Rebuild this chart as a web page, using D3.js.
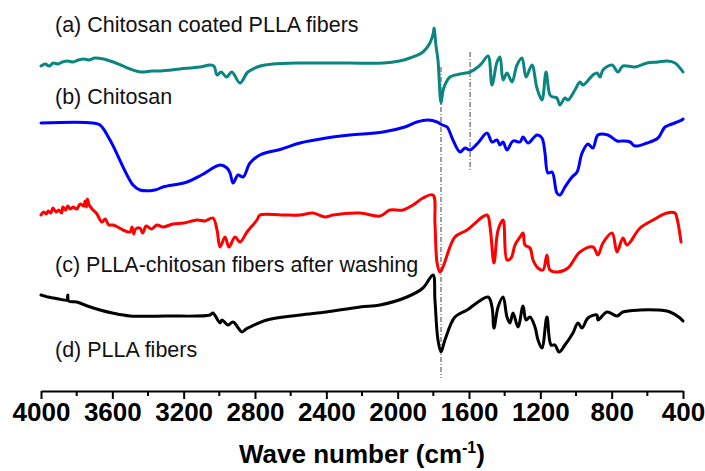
<!DOCTYPE html>
<meta charset="utf-8" />
<style>
  body { margin: 0; background: #fff; }
  .spec { fill: none; stroke-width: 3px; stroke-linejoin: round; stroke-linecap: round; }
  .guide { stroke: #444; stroke-width: 1; stroke-dasharray: 5,2,1,2; }
  .lab { font-family: Arial, "Liberation Sans", sans-serif; font-size: 21.5px; fill: #111; }
  .axis text { font-family: Arial, "Liberation Sans", sans-serif; font-size: 26px; font-weight: bold; fill: #000; }
  .axis path, .axis line { stroke: #000; stroke-width: 2px; }
  .title { font-family: Arial, "Liberation Sans", sans-serif; font-size: 26px; font-weight: bold; }
</style>
<svg width="705" height="471"></svg>
<script src="https://d3js.org/d3.v7.min.js"></script>
<script>
  // wavenumber (cm-1), offset transmittance (a.u.)
  var specA = [[4000,325],[3975,327],[3955,325],[3930,328],[3905,327],[3880,329],[3850,330],[3820,329],[3790,331],[3760,332],[3730,331],[3700,333],[3650,332],[3580,328],[3500,322],[3440,319],[3380,320],[3330,320],[3220,322],[3110,324],[3052,326],[3030,325],[3013,316],[2990,319],[2960,314],[2930,319],[2884,308],[2840,319],[2770,325],[2700,327],[2550,328],[2450,328],[2270,328],[2080,328],[1990,330],[1931,333],[1858,339],[1819,348],[1800,358],[1796,363],[1785,345],[1774,331],[1757,288],[1746,300],[1735,306],[1707,314],[1650,317],[1594,319],[1550,324],[1527,328],[1493,335],[1471,306],[1443,329],[1426,334],[1409,311],[1387,318],[1359,309],[1331,326],[1303,333],[1280,314],[1247,326],[1219,303],[1191,291],[1168,319],[1146,296],[1129,294],[1107,293],[1090,286],[1062,293],[1045,291],[1006,301],[978,309],[961,306],[905,316],[882,318],[865,314],[849,321],[798,326],[765,319],[737,325],[669,324],[602,328],[540,329],[490,330],[445,328],[417,323],[400,319]];

  var specB = [[4000,268],[3710,268],[3669,266],[3613,251],[3484,206],[3445,201],[3361,201],[3316,204],[3181,209],[3100,216],[2996,226],[2957,223],[2940,218],[2923,208],[2895,216],[2867,214],[2828,228],[2772,236],[2650,242],[2548,248],[2400,253],[2267,256],[2082,259],[1960,264],[1892,269],[1830,271],[1779,269],[1750,266],[1723,264],[1690,251],[1650,239],[1622,243],[1594,241],[1550,248],[1499,258],[1471,249],[1443,251],[1426,246],[1409,249],[1387,241],[1353,250],[1314,249],[1297,254],[1269,248],[1219,256],[1191,253],[1174,238],[1157,218],[1134,219],[1107,198],[1090,196],[1062,204],[1022,214],[994,219],[966,238],[933,247],[905,243],[877,256],[821,256],[770,250],[737,250],[697,249],[669,245],[602,248],[540,253],[501,264],[462,267],[406,271],[400,272]];

  var specC = [[4000,176],[3985,179],[3970,177],[3960,180],[3945,178],[3933,183],[3915,179],[3900,181],[3885,178],[3877,184],[3862,181],[3850,185],[3835,182],[3820,184],[3800,182],[3780,187],[3760,185],[3753,190],[3745,184],[3740,192],[3730,186],[3708,181],[3690,178],[3658,169],[3640,172],[3620,166],[3596,166],[3570,164],[3540,161],[3501,159],[3490,164],[3480,157],[3470,162],[3445,163],[3430,158],[3410,165],[3380,162],[3350,166],[3316,164],[3260,167],[3200,168],[3125,171],[3080,170],[3036,173],[3013,161],[2996,144],[2968,154],[2946,144],[2912,154],[2884,149],[2845,159],[2789,171],[2772,176],[2650,176],[2548,176],[2475,178],[2407,174],[2363,176],[2211,178],[2099,175],[2043,181],[1970,181],[1914,186],[1858,193],[1802,196],[1791,168],[1779,128],[1763,119],[1746,124],[1679,154],[1611,161],[1499,176],[1482,164],[1460,128],[1437,161],[1409,171],[1387,131],[1364,133],[1342,146],[1314,154],[1297,158],[1286,146],[1258,143],[1241,131],[1213,123],[1185,121],[1163,136],[1146,121],[1101,119],[1045,123],[978,139],[905,144],[877,136],[849,148],[798,158],[770,139],[737,153],[714,146],[641,163],[568,171],[490,178],[445,178],[434,173],[411,149]];

  var specD = [[4000,96],[3980,95],[3960,94],[3930,93],[3900,92],[3870,91],[3854,91],[3850,96],[3845,90],[3800,89],[3740,85],[3669,81],[3600,78],[3501,75],[3300,75],[3052,76],[3036,78],[2996,68],[2985,71],[2951,66],[2923,69],[2873,59],[2850,62],[2828,64],[2733,71],[2548,76],[2400,79],[2211,84],[2099,86],[1948,94],[1858,103],[1802,116],[1791,91],[1774,51],[1757,39],[1735,51],[1679,74],[1611,81],[1493,94],[1471,84],[1460,63],[1437,84],[1409,94],[1387,74],[1370,68],[1353,78],[1325,64],[1297,85],[1280,71],[1258,74],[1230,64],[1213,51],[1191,43],[1163,74],[1140,46],[1118,46],[1095,39],[1062,46],[1017,58],[989,68],[966,63],[933,73],[882,76],[877,71],[826,79],[770,75],[737,79],[641,81],[546,81],[473,79],[417,73],[400,70]];

  var series = [
    { name: "(a) Chitosan coated PLLA fibers", values: specA, color: "#0b8580" },
    { name: "(b) Chitosan", values: specB, color: "#0000ff" },
    { name: "(c) PLLA-chitosan fibers after washing", values: specC, color: "#ff0000" },
    { name: "(d) PLLA fibers", values: specD, color: "#000000" }
  ];

  // dash-dot guides: [wavenumber, from, to]
  var guides = [[1757, 13, 324], [1594, 219, 339]];

  var majorTicks = d3.range(4000, 399, -400);
  var minorTicks = d3.range(3800, 400, -400);

  var svg = d3.select("svg"),
    left = 41,
    right = 683,
    axisY = 391;

  var x = d3.scaleLinear().domain([4000, 400]).range([left, right]);
  var y = d3.scaleLinear().domain([0, 391]).range([axisY, 0]);

  var line = d3
    .line()
    .curve(d3.curveCatmullRom.alpha(0.5))
    .x(function (d) { return x(d[0]); })
    .y(function (d) { return y(d[1]); });

  svg
    .selectAll(".guide")
    .data(guides)
    .enter()
    .append("line")
    .attr("class", "guide")
    .attr("x1", function (d) { return x(d[0]); })
    .attr("x2", function (d) { return x(d[0]); })
    .attr("y1", function (d) { return y(d[2]); })
    .attr("y2", function (d) { return y(d[1]); });

  svg
    .selectAll(".spec")
    .data(series)
    .enter()
    .append("path")
    .attr("class", "spec")
    .attr("stroke", function (d) { return d.color; })
    .attr("d", function (d) { return line(d.values); });

  // curve labels
  var labelY = [32, 104, 272, 357];
  svg
    .selectAll(".lab")
    .data(series)
    .enter()
    .append("text")
    .attr("class", "lab")
    .attr("x", 55)
    .attr("y", function (d, i) { return labelY[i]; })
    .text(function (d) { return d.name; });

  var axis = svg
    .append("g")
    .attr("class", "axis")
    .attr("transform", "translate(0," + axisY + ")")
    .call(
      d3.axisBottom(x)
        .tickValues(majorTicks)
        .tickFormat(d3.format("d"))
        .tickSize(8)
        .tickSizeOuter(0)
        .tickPadding(4)
    );

  axis.selectAll(".minor")
    .data(minorTicks)
    .enter()
    .append("line")
    .attr("class", "minor")
    .attr("x1", function (d) { return x(d); })
    .attr("x2", function (d) { return x(d); })
    .attr("y1", 0)
    .attr("y2", 5);

  var title = svg
    .append("text")
    .attr("class", "title")
    .attr("x", (left + right) / 2)
    .attr("y", 463)
    .attr("text-anchor", "middle");
  title.append("tspan").text("Wave number (cm");
  title.append("tspan").attr("dy", -10).attr("font-size", "16px").text("-1");
  title.append("tspan").attr("dy", 10).text(")");
</script>
